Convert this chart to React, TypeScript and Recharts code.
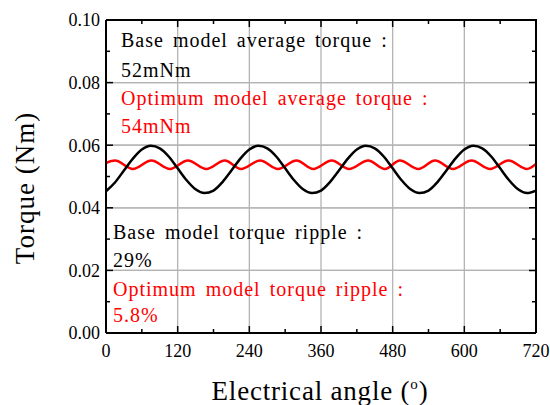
import React from 'react';
import { LineChart, Line, XAxis, YAxis, ReferenceLine, CartesianGrid } from 'recharts';

// axis ticks (major + minor)
const angleTicks = [0, 60, 120, 180, 240, 300, 360, 420, 480, 540, 600, 660, 720];
const angleGrid = [120, 240, 360, 480, 600];
const torqueTicks = [0, 0.01, 0.02, 0.03, 0.04, 0.05, 0.06, 0.07, 0.08, 0.09, 0.1];
const torqueGrid = [0.02, 0.04, 0.06, 0.08];

// base model torque (Nm) vs electrical angle (deg)
const baseAngle = [
    0, 15, 30, 45, 60, 75, 90, 105, 120, 135, 150, 165,
    180, 195, 210, 225, 240, 255, 270, 285, 300, 315, 330, 345,
    360, 375, 390, 405, 420, 435, 450, 465, 480, 495, 510, 525,
    540, 555, 570, 585, 600, 615, 630, 645, 660, 675, 690, 705, 720
];
const baseTorque = [
    0.0453, 0.0481, 0.0519, 0.0557, 0.0586, 0.0598, 0.0590, 0.0564, 0.0526, 0.0488, 0.0459, 0.0447,
    0.0455, 0.0482, 0.0519, 0.0557, 0.0586, 0.0598, 0.0590, 0.0564, 0.0526, 0.0488, 0.0459, 0.0447,
    0.0455, 0.0482, 0.0519, 0.0557, 0.0586, 0.0598, 0.0590, 0.0564, 0.0526, 0.0488, 0.0459, 0.0447,
    0.0455, 0.0482, 0.0519, 0.0557, 0.0586, 0.0598, 0.0590, 0.0564, 0.0526, 0.0488, 0.0459, 0.0447,
    0.0455
];

// optimum model torque (Nm): peaks and troughs
const optAngle = [
    0, 15, 45, 76, 107, 137, 168, 199, 226, 258, 288, 319, 347,
    378, 407, 439, 467, 492, 523, 551, 581, 612, 643, 674, 705, 720
];
const optTorque = [
    0.0543, 0.0551, 0.0524, 0.0551, 0.0524, 0.0551, 0.0524, 0.0551, 0.0524, 0.0551, 0.0524, 0.0551, 0.0524,
    0.0551, 0.0524, 0.0551, 0.0524, 0.0551, 0.0524, 0.0551, 0.0524, 0.0551, 0.0524, 0.0551, 0.0524, 0.0540
];

// one table keyed by angle, both series share it
const rows = new Map<number, any>();
baseAngle.forEach((a, i) => rows.set(a, { ...(rows.get(a) || { angle: a }), base: baseTorque[i] }));
optAngle.forEach((a, i) => rows.set(a, { ...(rows.get(a) || { angle: a }), opt: optTorque[i] }));
const chartData = Array.from(rows.values()).sort((p, q) => p.angle - q.angle);

const FONT = '"Liberation Serif", "Times New Roman", serif';
const TICK_W = 1.5;
const GRID = '#b4b4b4';
const X_MAX = 720;
const Y_MAX = 0.1;

// plot box in page pixels (the chart margins below produce it)
const PLOT = { left: 106, top: 20, right: 536, bottom: 333 };
const px = (v: number) => PLOT.left + (v / X_MAX) * (PLOT.right - PLOT.left);
const py = (v: number) => PLOT.bottom - (v / Y_MAX) * (PLOT.bottom - PLOT.top);

const isMajorAngle = (v: number) => v % 120 === 0;
const isMajorTorque = (v: number) => Math.round(v * 100) % 2 === 0;

const frameTickPath =
    angleTicks.map((v) => `M${px(v)},${PLOT.top}v${isMajorAngle(v) ? 7 : 4}`).join('') +
    torqueTicks.map((v) => `M${PLOT.right},${py(v)}h${isMajorTorque(v) ? -7 : -4}`).join('');

const BottomTick = (props: any) => {
    const { x, y, payload } = props;
    const major = isMajorAngle(payload.value);
    const axisY = y - 11;
    return (
        <g>
            <line x1={x} x2={x} y1={axisY} y2={axisY - (major ? 7 : 4)} stroke="#000" strokeWidth={TICK_W} />
            {major && (
                <text x={x} y={y} dy="0.71em" textAnchor="middle" fontFamily={FONT} fontSize={18} fill="#000">
                    {payload.value}
                </text>
            )}
        </g>
    );
};

const LeftTick = (props: any) => {
    const { x, y, payload } = props;
    const major = isMajorTorque(payload.value);
    const axisX = x + 6;
    return (
        <g>
            <line x1={axisX} x2={axisX + (major ? 7 : 4)} y1={y} y2={y} stroke="#000" strokeWidth={TICK_W} />
            {major && (
                <text x={x} y={y} dy="0.355em" textAnchor="end" fontFamily={FONT} fontSize={18} fill="#000">
                    {payload.value.toFixed(2)}
                </text>
            )}
        </g>
    );
};

const noteStyle = { fontFamily: FONT, fontSize: 20, letterSpacing: 1, wordSpacing: 3 };

export default function App() {
    return (
        <div style={{ position: 'absolute', left: 0, top: 0, width: 550, height: 405, background: '#fff' }}>
            <LineChart width={550} height={405} data={chartData} margin={{ top: 20, right: 14, bottom: 42, left: 46 }}>
                <CartesianGrid verticalValues={angleGrid} horizontalValues={torqueGrid} stroke={GRID} strokeWidth={1.3} />
                <XAxis
                    dataKey="angle"
                    type="number"
                    domain={[0, X_MAX]}
                    ticks={angleTicks}
                    interval={0}
                    height={30}
                    tickSize={0}
                    tickMargin={11}
                    tickLine={false}
                    axisLine={{ stroke: '#000', strokeWidth: 2 }}
                    tick={<BottomTick />}
                    allowDataOverflow
                />
                <YAxis
                    type="number"
                    domain={[0, Y_MAX]}
                    ticks={torqueTicks}
                    interval={0}
                    width={60}
                    tickSize={0}
                    tickMargin={6}
                    tickLine={false}
                    axisLine={{ stroke: '#000', strokeWidth: 2 }}
                    tick={<LeftTick />}
                    allowDataOverflow
                />
                {torqueGrid.map((v) => (
                    <ReferenceLine key={`gy-${v}`} y={v} stroke={GRID} strokeWidth={1.3} />
                ))}
                <Line
                    dataKey="opt"
                    type="monotone"
                    connectNulls
                    stroke="#ff0000"
                    strokeWidth={2.5}
                    dot={false}
                    isAnimationActive={false}
                />
                <Line
                    dataKey="base"
                    type="monotone"
                    connectNulls
                    stroke="#000"
                    strokeWidth={2.5}
                    dot={false}
                    isAnimationActive={false}
                />
            </LineChart>
            <svg
                width={550}
                height={405}
                style={{ position: 'absolute', left: 0, top: 0, pointerEvents: 'none' }}
            >
                {/* top and right frame with inward ticks */}
                <path
                    d={`M${PLOT.left},${PLOT.top}H${PLOT.right}V${PLOT.bottom}`}
                    stroke="#000"
                    strokeWidth={2}
                    fill="none"
                />
                <path d={frameTickPath} stroke="#000" strokeWidth={TICK_W} fill="none" />
                <g style={noteStyle}>
                    <text x={121} y={47} fill="#000">Base model average torque :</text>
                    <text x={121} y={77} fill="#000">52mNm</text>
                    <text x={121} y={105} fill="#ff0000">Optimum model average torque :</text>
                    <text x={121} y={133} fill="#ff0000">54mNm</text>
                    <text x={113} y={239} fill="#000">Base model torque ripple :</text>
                    <text x={113} y={267} fill="#000">29%</text>
                    <text x={113} y={296} fill="#ff0000">Optimum model torque ripple :</text>
                    <text x={113} y={322} fill="#ff0000">5.8%</text>
                </g>
                <text
                    x={34}
                    y={188}
                    transform="rotate(-90, 34, 188)"
                    textAnchor="middle"
                    fontFamily={FONT}
                    fontSize={27}
                    letterSpacing={1}
                    fill="#000"
                >
                    Torque (Nm)
                </text>
                <text x={320} y={400} textAnchor="middle" fontFamily={FONT} fontSize={27} letterSpacing={0.8} fill="#000">
                    Electrical angle (<tspan fontSize={15} dy={-11}>o</tspan><tspan dy={11}>)</tspan>
                </text>
            </svg>
        </div>
    );
}
